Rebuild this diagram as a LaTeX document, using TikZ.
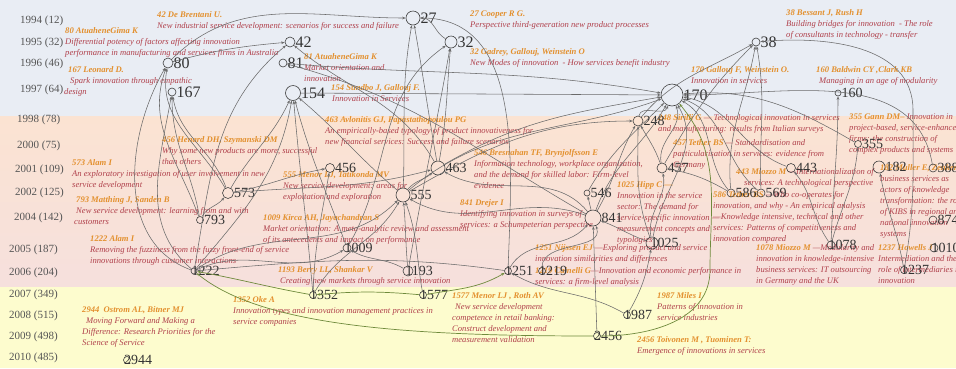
\documentclass[tikz,border=0pt]{standalone}
\usepackage{fontspec}
\setmainfont{Liberation Serif}
\usetikzlibrary{arrows.meta}

\definecolor{bandblue}{HTML}{E9EDF4}
\definecolor{bandpeach}{HTML}{FBE3D2}
\definecolor{bandpink}{HTML}{F6E0DD}
\definecolor{bandyellow}{HTML}{FDFCCE}
\definecolor{ttlorange}{HTML}{E3902E}
\definecolor{subred}{HTML}{B0404B}
\definecolor{yeargrey}{HTML}{555555}
\definecolor{linegrey}{HTML}{6A6A6A}
\definecolor{linegreen}{HTML}{6F8A3C}

\newcommand{\au}[1]{{\color{ttlorange}\bfseries #1}}

\begin{document}
\begin{tikzpicture}[x=1pt, y=1pt,
paper/.style={circle, draw=black!75, line width=0.6pt, inner sep=0pt, minimum size=#1},
num/.style={font=\fontsize{14}{14}\selectfont, text=black!80, inner sep=0pt, label distance=0pt},
bignum/.style={num, font=\fontsize{16}{16}\selectfont},
year/.style={anchor=west, inner sep=0pt, font=\fontsize{11}{11}\selectfont, text=yeargrey},
info/.style={anchor=north west, align=left, inner sep=0pt, font=\fontsize{8.6}{11}\selectfont\itshape, text=subred},
cite/.style={draw=linegrey, line width=0.55pt, -{Stealth[length=3.5pt,width=2.6pt]}},
newcite/.style={cite, draw=linegreen, line width=0.7pt}
]
\useasboundingbox (0,0) rectangle (956,-368);
\clip (0,0) rectangle (956,-368);

% bands
\fill[bandblue] (0,0) rectangle (956,-116);
\shade[top color=bandpeach, bottom color=bandpink] (0,-116) rectangle (956,-287);
\fill[bandyellow] (0,-287) rectangle (956,-368);

% years
\node[year] (y1994) at (20,-21) {1994 (12)};
\node[year] (y1995) at (20,-43) {1995 (32)};
\node[year] (y1996) at (20,-64) {1996 (46)};
\node[year] (y1997) at (20,-90) {1997 (64)};
\node[year] (y1998) at (17,-120) {1998 (78)};
\node[year] (y2000) at (17,-146) {2000 (75)};
\node[year] (y2001) at (15,-170) {2001 (109)};
\node[year] (y2002) at (15,-193) {2002 (125)};
\node[year] (y2004) at (14,-218) {2004 (142)};
\node[year] (y2005) at (9,-250) {2005 (187)};
\node[year] (y2006) at (9,-273) {2006 (204)};
\node[year] (y2007) at (9,-295) {2007 (349)};
\node[year] (y2008) at (9,-316) {2008 (515)};
\node[year] (y2009) at (9,-337) {2009 (498)};
\node[year] (y2010) at (9,-358) {2010 (485)};

% paper descriptions
\node[info] (i42) at (157,-11) {\au{42 De Brentani U.}\\New industrial service development: scenarios for success and failure};
\node[info] (i80) at (65,-27) {\au{80 AtuaheneGima K}\\Differential potency of factors affecting innovation\\performance in manufacturing and services firms in Australia};
\node[info] (i167) at (64,-66) {\hspace*{4pt}\au{167 Leonard D.}\\\hspace*{6pt}Spark innovation through empathic\\design};
\node[info] (i81) at (304,-53) {\au{81 AtuaheneGima K}\\Market orientation and\\innovation};
\node[info] (i154) at (331,-84) {\au{154 Sundbo J, Gallouj F.}\\\hspace*{1pt}Innovation in Services};
\node[info] (i463) at (325,-116) {\au{463 Avlonitis GJ, Papastathopoulou PG}\\An empirically-based typology of product innovativeness for\\new financial services: Success and failure scenarios};
\node[info] (i27) at (470,-11) {\au{27 Cooper R G.}\\Perspective third-generation new product processes};
\node[info] (i32) at (470,-48) {\au{32 Gadrey, Gallouj, Weinstein O}\\New Modes of innovation \ - How services benefit industry};
\node[info] (i170) at (691,-66) {\au{170 Gallouj F, Weinstein O.}\\Innovation in services};
\node[info] (i38) at (786,-9) {\au{38 Bessant J, Rush H}\\Building bridges for innovation \ - The role\\of consultants in technology - transfer};
\node[info] (i160) at (816,-66) {\au{160 Baldwin CY ,Clark KB}\\\hspace*{3pt}Managing in an age of modularity};
\node[info] (i248) at (658,-114) {\au{248 Sirilli G} --- Technological innovation in services\\and manufacturing: results from Italian surveys};
\node[info] (i355) at (849,-114) {\au{355 Gann DM--} Innovation in\\project-based, service-enhanced\\firms: the construction of\\complex products and systems};
\node[info] (i456) at (162,-136) {\au{456 Henard DH, Szymanski DM}\\Why some new products are more, successful\\than others};
\node[info] (i573) at (72,-159) {\au{573 Alam I}\\An exploratory investigation of user involvement in new\\service development};
\node[info] (i793) at (74,-196) {\hspace*{2pt}\au{793 Matthing J, Sanden B}\\\hspace*{2pt}New service development: learning from and with\\customers};
\node[info] (i1222) at (86,-235) {\hspace*{4pt}\au{1222 Alam I}\\\hspace*{4pt}Removing the fuzziness from the fuzzy front-end of service\\\hspace*{4pt}innovations through customer interactions};
\node[info] (i555) at (283,-171) {\au{555 Menor LJ, Tatikonda MV}\\New service development: areas for\\exploitation and exploration};
\node[info] (i1009) at (263,-214) {\au{1009 Kirca AH, Jayachandran S}\\Market orientation: A meta-analytic review and assessment\\of its antecedents and impact on performance};
\node[info] (i546) at (474,-149) {\au{546 Bresnahan TF, Brynjolfsson E}\\Information technology, workplace organization,\\and the demand for skilled labor: Firm-level\\evidence};
\node[info] (i841) at (460,-199) {\au{841 Drejer I}\\Identifying innovation in surveys of\\services: a Schumpeterian perspective};
\node[info] (i1025) at (617,-181) {\au{1025 Hipp C ---}\\Innovation in the service\\sector: The demand for\\service-specific innovation ---\\measurement concepts and\\typologies};
\node[info] (i457) at (673,-139) {\au{457 Tether BS} --- Standardisation and\\particularisation in services: evidence from\\Germany};
\node[info] (i443) at (736,-168) {\au{443 Miozzo M} ---Internationalization of\\\hspace*{8pt}services: A technological perspective};
\node[info] (i586) at (713,-191) {\au{586 Tether BS} ---Who co-operates for\\innovation, and why - An empirical analysis\\---Knowledge intensive, technical and other\\services: Patterns of competitiveness and\\innovation compared};
\node[info] (i182) at (880,-164) {\au{182 Muller E, Zenker A}\\business services as\\actors of knowledge\\transformation: the role\\of KIBS in regional and\\national innovation\\systems};
\node[info] (i1078) at (756,-244) {\au{1078 Miozzo M} ---Modularity and\\innovation in knowledge-intensive\\business services: IT outsourcing\\in Germany and the UK};
\node[info] (i1237) at (878,-244) {\au{1237 Howells J}\\Intermediation and the\\role of intermediaries in\\innovation};
\node[info] (i1251) at (535,-244) {\au{1251 Nijssen EJ} ---Exploring product and service\\innovation similarities and differences};
\node[info] (i1219) at (535,-267) {\au{1219 Cainelli G}---Innovation and economic performance in\\services: a firm-level analysis};
\node[info] (i1193) at (278,-266) {\au{1193 Berry LL, Shankar V}\\\hspace*{2pt}Creating new markets through service innovation};
\node[info] (i1352) at (233,-296) {\au{1352 Oke A}\\Innovation types and innovation management practices in\\service companies};
\node[info] (i1577) at (452,-292) {\au{1577 Menor LJ , Roth AV}\\\hspace*{3pt}New service development\\competence in retail banking:\\Construct development and\\measurement validation};
\node[info] (i1987) at (657,-292) {\au{1987 Miles I}\\Patterns of innovation in\\service industries};
\node[info] (i2456) at (637,-336) {\au{2456 Toivonen M , Tuominen T:}\\Emergence of innovations in services};
\node[info] (i2944) at (82,-306) {\au{2944 \ Ostrom AL, Bitner MJ}\\\hspace*{4pt}Moving Forward and Making a\\Difference: Research Priorities for the\\Science of Service};

% papers
\node[paper=14pt, label={[bignum]right:27}] (p27) at (413,-18) {};
\node[paper=10pt, label={[bignum]right:42}] (p42) at (290,-42) {};
\node[paper=12pt, label={[bignum]right:32}] (p32) at (451,-42) {};
\node[paper=10pt, label={[bignum]right:80}] (p80) at (168,-63) {};
\node[paper=8pt, label={[bignum]right:81}] (p81) at (283,-63) {};
\node[paper=15pt, label={[bignum]right:154}] (p154) at (293,-93) {};
\node[paper=8pt, label={[bignum]right:167}] (p167) at (172,-92) {};
\node[paper=22pt, label={[bignum]right:170}] (p170) at (672,-95) {};
\node[paper=8pt, label={[bignum]right:38}] (p38) at (756,-42) {};
\node[paper=6pt, label={[num]right:160}] (p160) at (838,-93) {};
\node[paper=10pt, label={[num]right:248}] (p248) at (638,-121) {};
\node[paper=9pt, label={[num]right:456}] (p456) at (330,-168) {};
\node[paper=14pt, label={[num]right:463}] (p463) at (438,-168) {};
\node[paper=10pt, label={[num]right:457}] (p457) at (662,-168) {};
\node[paper=9pt, label={[num]right:443}] (p443) at (791,-168) {};
\node[paper=7pt, label={[num]right:355}] (p355) at (858,-144) {};
\node[paper=12pt, label={[num]right:182}] (p182) at (879,-167) {};
\node[paper=8pt, label={[num]right:388}] (p388) at (933,-168) {};
\node[paper=11pt, label={[num]right:573}] (p573) at (228,-193) {};
\node[paper=14pt, label={[num]right:555}] (p555) at (403,-195) {};
\node[paper=6pt, label={[num]right:546}] (p546) at (587,-193) {};
\node[paper=8pt, label={[num]right:586}] (p586) at (731,-193) {};
\node[paper=8pt, label={[num]right:569}] (p569) at (761,-193) {};
\node[paper=16pt, label={[num]right:841}] (p841) at (593,-218) {};
\node[paper=7pt, label={[num]right:793}] (p793) at (200,-220) {};
\node[paper=8pt, label={[num]right:874}] (p874) at (933,-220) {};
\node[paper=12pt, label={[num, xshift=-8pt]right:1025}] (p1025) at (652,-243) {};
\node[paper=8pt, label={[num, xshift=-7pt]right:1009}] (p1009) at (347,-248) {};
\node[paper=8pt, label={[num, xshift=-7pt]right:1078}] (p1078) at (831,-245) {};
\node[paper=8pt, label={[num, xshift=-7pt]right:1010}] (p1010) at (934,-248) {};
\node[paper=6pt, label={[num, xshift=-6pt]right:1222}] (p1222) at (194,-271) {};
\node[paper=10pt, label={[num, xshift=-8pt]right:1193}] (p1193) at (408,-271) {};
\node[paper=7pt, label={[num, xshift=-7pt]right:1251}] (p1251) at (508,-271) {};
\node[paper=7pt, label={[num, xshift=-7pt]right:1219}] (p1219) at (542,-271) {};
\node[paper=7pt, label={[num, xshift=-7pt]right:1237}] (p1237) at (904,-270) {};
\node[paper=7pt, label={[num, xshift=-7pt]right:1352}] (p1352) at (313,-295) {};
\node[paper=7pt, label={[num, xshift=-7pt]right:1577}] (p1577) at (423,-295) {};
\node[paper=7pt, label={[num, xshift=-7pt]right:1987}] (p1987) at (627,-315) {};
\node[paper=7pt, label={[num, xshift=-7pt]right:2456}] (p2456) at (597,-336) {};
\node[paper=7pt, label={[num, xshift=-7pt]right:2944}] (p2944) at (127,-360) {};

% citations, top band
\draw[cite] (p80) to[out=15,in=185] (p42);
\draw[cite] (p80) to[out=45,in=180] (p27);
\draw[cite] (p154) -- (p170);
\draw[cite] (p81) to[out=-5,in=170] (p170);
\draw[cite] (p32) to[out=150,in=0] (p27);
\draw[cite] (p1251) to[out=88,in=0] (p27);
\draw[cite] (p463) to[out=100,in=-80] (p27);
\draw[cite] (p555) to[out=88,in=-100] (p27);
\draw[cite] (p463) to[out=80,in=-95] (p32);
\draw[cite] (p1193) to[out=80,in=-100] (p32);
\draw[cite] (p1009) to[out=60,in=-145] (p32);
\draw[cite] (p841) to[out=150,in=-15] (p81);
\draw[cite] (p463) to[out=120,in=-40] (p42);
\draw[cite] (p1222) to[out=80,in=-140] (p42);

% left cluster
\draw[cite] (p573) to[out=120,in=-100] (p80);
\draw[cite] (p793) to[out=110,in=-110] (p80);
\draw[cite] (p1222) to[out=160,in=-120] (p80);
\draw[cite] (p573) to[out=110,in=-80] (p167);
\draw[cite] (p793) to[out=100,in=-90] (p167);
\draw[cite] (p1222) to[out=140,in=-100] (p167);
\draw[cite] (p573) to[out=60,in=-115] (p154);
\draw[cite] (p1222) to[out=50,in=-100] (p154);
\draw[cite] (p1009) to[out=110,in=-75] (p154);
\draw[cite] (p555) to[out=140,in=-40] (p154);
\draw[cite] (p1352) to[out=95,in=-85] (p154);
\draw[cite] (p793) to[out=60,in=-130] (p573);
\draw[cite] (p573) to[out=10,in=190] (p456);
\draw[cite] (p573) to[out=5,in=195] (p463);
\draw[cite] (p1352) to[out=88,in=-100] (p456);
\draw[cite] (p1222) to[out=25,in=-150] (p1009);
\draw[cite] (p1222) to[out=35,in=-135] (p555);
\draw[cite] (p1251) to[out=172,in=5] (p1222);

% middle cluster
\draw[cite] (p555) to[out=50,in=-140] (p463);
\draw[cite] (p1352) to[out=60,in=-120] (p555);
\draw[cite] (p1577) to[out=100,in=-70] (p555);
\draw[cite] (p1193) to[out=95,in=-85] (p555);
\draw[cite] (p1193) to[out=150,in=-30] (p1009);
\draw[cite] (p841) to[out=160,in=-30] (p555);
\draw[cite] (p463) to[out=30,in=190] (p170);
\draw[cite] (p555) to[out=40,in=200] (p170);
\draw[cite] (p555) to[out=30,in=180] (p248);
\draw[cite] (p546) to[out=60,in=-135] (p170);
\draw[cite] (p841) to[out=130,in=-30] (p463);
\draw[cite] (p841) to[out=70,in=-120] (p170);
\draw[cite] (p841) to[out=60,in=-120] (p248);
\draw[cite] (p841) -- (p546);
\draw[cite] (p1251) to[out=60,in=-130] (p841);
\draw[cite] (p1219) to[out=90,in=-70] (p841);
\draw[cite] (p2456) -- (p841);
\draw[cite] (p1025) to[out=160,in=-20] (p841);
\draw[cite] (p1025) to[out=100,in=-80] (p457);
\draw[cite] (p1025) to[out=110,in=-90] (p248);
\draw[cite] (p1025) to[out=80,in=-60] (p170);
\draw[cite] (p457) to[out=110,in=-60] (p248);
\draw[cite] (p457) to[out=100,in=-70] (p170);
\draw[cite] (p248) to[out=80,in=-110] (p170);
\draw[cite] (p1987) to[out=60,in=-100] (p1025);
\draw[cite] (p1987) to[out=150,in=-30] (p1251);

% right cluster
\draw[cite] (p248) to[out=50,in=-150] (p38);
\draw[cite] (p457) to[out=60,in=-135] (p38);
\draw[cite] (p586) to[out=95,in=-100] (p38);
\draw[cite] (p569) to[out=92,in=-80] (p38);
\draw[cite] (p586) to[out=130,in=-30] (p170);
\draw[cite] (p569) to[out=140,in=-20] (p170);
\draw[cite] (p586) to[out=150,in=-10] (p457);
\draw[cite] (p443) to[out=160,in=-10] (p170);
\draw[cite] (p1078) to[out=125,in=-50] (p443);
\draw[cite] (p1078) to[out=88,in=-90] (p160);
\draw[cite] (p1078) to[out=75,in=-95] (p355);
\draw[cite] (p355) to[out=150,in=5] (p170);
\draw[cite] (p388) to[out=100,in=0] (p170);
\draw[cite] (p1237) to[out=100,in=-80] (p182);
\draw[cite] (p1237) to[out=80,in=-90] (913,-110) to[out=90,in=5] (p38);

% citations, recent years
\draw[newcite] (p1352) to[out=170,in=-10] (p1222);
\draw[newcite] (p1577) to[out=175,in=5] (p1352);
\draw[newcite] (p1577) to[out=10,in=-150] (p1251);
\draw[newcite] (p2456) .. controls (400,-336) and (260,-325) .. (p1222);
\draw[newcite] (p2456) to[out=0,in=-90] (710,-270) to[out=90,in=-50] (p170);
\end{tikzpicture}
\end{document}
